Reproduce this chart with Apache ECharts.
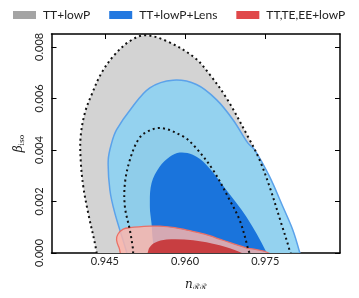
<!DOCTYPE html>
<html>
<head>
<meta charset="utf-8">
<script src="https://cdn.jsdelivr.net/npm/echarts@6/dist/echarts.min.js"></script>
<style>html,body{margin:0;padding:0;background:#fff}#c{width:359px;height:298px}</style>
</head>
<body>
<div id="c"></div>
<script>
// Tick labels
const nTicks = [0.945, 0.960, 0.975];
const betaTicks = [0.000, 0.002, 0.004, 0.006, 0.008];
const legendNames = ['TT+lowP', 'TT+lowP+Lens', 'TT,TE,EE+lowP'];

// Contours: [n_RR, beta_iso]
const grayOuter = [[0.94321,-0.0002],[0.94345,0.0],[0.94188,0.001536],[0.94095,0.002573],[0.94046,0.003614],[0.94046,0.004523],[0.94126,0.005447],[0.94252,0.006149],[0.94438,0.006995],[0.94687,0.007708],[0.94967,0.008227],[0.95247,0.008449],[0.95653,0.008227],[0.96181,0.007580],[0.96461,0.006928],[0.96773,0.006020],[0.97209,0.004394],[0.97395,0.003614],[0.97582,0.002573],[0.97801,0.001146],[0.97956,0.000105],[0.97975,-0.0002]];
const grayInner = [[0.95042,-0.0002],[0.95029,0.000105],[0.94967,0.000885],[0.94874,0.001794],[0.94874,0.002706],[0.94967,0.003614],[0.95122,0.004394],[0.95285,0.004706],[0.95559,0.004850],[0.95963,0.004523],[0.96181,0.004133],[0.96523,0.003224],[0.96835,0.002055],[0.97022,0.001275],[0.97177,0.000172],[0.97199,-0.0002]];
const blueOuter = [[0.94920,-0.0002],[0.94905,0.000039],[0.94687,0.001536],[0.94593,0.002445],[0.94562,0.003614],[0.94625,0.004265],[0.94719,0.004784],[0.94999,0.005630],[0.95341,0.006410],[0.95776,0.006706],[0.96213,0.006539],[0.96587,0.005954],[0.96897,0.005174],[0.97177,0.004265],[0.97302,0.004004],[0.97582,0.002963],[0.97831,0.001794],[0.98018,0.000885],[0.98143,0.000039],[0.98161,-0.0002]];
const blueInner = [[0.95453,-0.0002],[0.95397,0.000495],[0.95372,0.001146],[0.95341,0.001794],[0.95372,0.002706],[0.95527,0.003353],[0.95714,0.003731],[0.95901,0.003899],[0.96144,0.003809],[0.96400,0.003419],[0.96773,0.002445],[0.97147,0.001404],[0.97520,0.000039],[0.97535,-0.0002]];
const redOuter = [[0.94855,-0.0002],[0.94762,0.000222],[0.94719,0.000495],[0.94743,0.000729],[0.94842,0.000924],[0.94967,0.000983],[0.95341,0.001041],[0.95527,0.001041],[0.95808,0.000983],[0.96088,0.000866],[0.96368,0.000729],[0.96710,0.000495],[0.97115,0.000222],[0.97520,0.000039],[0.97676,-0.0002]];
const redInner = [[0.95303,-0.0002],[0.95313,0.000105],[0.95341,0.000234],[0.95434,0.000398],[0.95653,0.000522],[0.96150,0.000495],[0.96648,0.000300],[0.97022,0.000039],[0.97209,-0.0002]];

function polyRender(style, smooth) {
  return function (params, api) {
    if (params.dataIndexInside !== 0) return null;
    const pts = [];
    for (let i = 0; i < params.dataInsideLength; i++) {
      pts.push(api.coord([api.value(0, i), api.value(1, i)]));
    }
    return { type: 'polygon', shape: { points: pts, smooth: smooth }, style: style };
  };
}
function poly(name, data, style, z) {
  return { type: 'custom', name: name, data: data, clip: true, silent: true, z: z,
           encode: { x: 0, y: 1 }, renderItem: polyRender(style, 0.35) };
}
const dotStyle = { fill: 'none', stroke: '#111', lineWidth: 2, lineDash: [2, 3.2] };

const chart = echarts.init(document.getElementById('c'), null, { renderer: 'canvas' });
const axisCommon = { onZero: false, lineStyle: { color: '#000', width: 1.5 } };
chart.setOption({
  animation: false,
  textStyle: { fontFamily: 'Lato' },
  legend: {
    left: 13, top: 9, width: 346, padding: 0, itemWidth: 23, itemHeight: 8, itemGap: 19, icon: 'rect',
    textStyle: { fontSize: 12, color: '#222', fontFamily: 'Lato', padding: [0, 0, 0, 2] },
    data: [
      { name: legendNames[0], itemStyle: { color: '#a4a4a4' } },
      { name: legendNames[1], itemStyle: { color: '#2479e0' } },
      { name: legendNames[2], itemStyle: { color: '#e0484a' } }
    ],
    selectedMode: false
  },
  grid: { left: 51.5, right: 19, top: 34, bottom: 45 },
  xAxis: [
    { type: 'value', min: 0.935, max: 0.989, position: 'bottom',
      axisLine: axisCommon, splitLine: { show: false },
      axisTick: { inside: true, length: 5, customValues: nTicks, lineStyle: { color: '#000' } },
      axisLabel: { customValues: nTicks, formatter: v => v.toFixed(3), fontSize: 11, margin: 3, color: '#222' },
      name: '{a|n}{b|ℛℛ}', nameLocation: 'middle', nameGap: 25,
      nameTextStyle: { rich: { a: { fontSize: 12, fontStyle: 'italic', fontFamily: 'DejaVu Serif', color: '#222' },
                               b: { fontSize: 7.5, fontFamily: 'DejaVu Serif', color: '#222', padding: [5, 0, 0, 0] } } } },
    { type: 'value', min: 0.935, max: 0.989, position: 'top',
      axisLine: axisCommon, splitLine: { show: false },
      axisTick: { inside: true, length: 5, customValues: nTicks, lineStyle: { color: '#000' } },
      axisLabel: { show: false } }
  ],
  yAxis: [
    { type: 'value', min: 0, max: 0.0085, position: 'left',
      axisLine: axisCommon, splitLine: { show: false },
      axisTick: { inside: true, length: 5, customValues: betaTicks, lineStyle: { color: '#000' } },
      axisLabel: { customValues: betaTicks, formatter: v => v.toFixed(3), fontSize: 11, rotate: 90, margin: 7, color: '#222' },
      name: '{a|β}{b|iso}', nameLocation: 'middle', nameRotate: 90, nameGap: 23,
      nameTextStyle: { rich: { a: { fontSize: 12, fontStyle: 'italic', fontFamily: 'DejaVu Serif', color: '#222' },
                               b: { fontSize: 7.5, fontFamily: 'DejaVu Serif', color: '#222', padding: [5, 0, 0, 0] } } } },
    { type: 'value', min: 0, max: 0.0085, position: 'right',
      axisLine: axisCommon, splitLine: { show: false },
      axisTick: { inside: true, length: 5, customValues: betaTicks, lineStyle: { color: '#000' } },
      axisLabel: { show: false } }
  ],
  series: [
    poly(legendNames[0], grayOuter, { fill: '#d3d3d3' }, 1),
    poly(legendNames[0], grayInner, { fill: '#b6b6b6' }, 2),
    poly(legendNames[1], blueOuter, { fill: 'rgba(136,209,243,0.85)', stroke: '#5ba2ea', lineWidth: 1.5 }, 3),
    poly(legendNames[1], blueInner, { fill: '#1a74dc' }, 4),
    poly(legendNames[2], redOuter, { fill: 'rgba(255,181,169,0.82)', stroke: '#ea7066', lineWidth: 1.3 }, 5),
    poly(legendNames[2], redInner, { fill: 'rgba(198,50,52,0.9)' }, 6),
    poly('dotsOuter', grayOuter, dotStyle, 7),
    poly('dotsInner', grayInner, dotStyle, 7)
  ]
});
</script>
</body>
</html>
